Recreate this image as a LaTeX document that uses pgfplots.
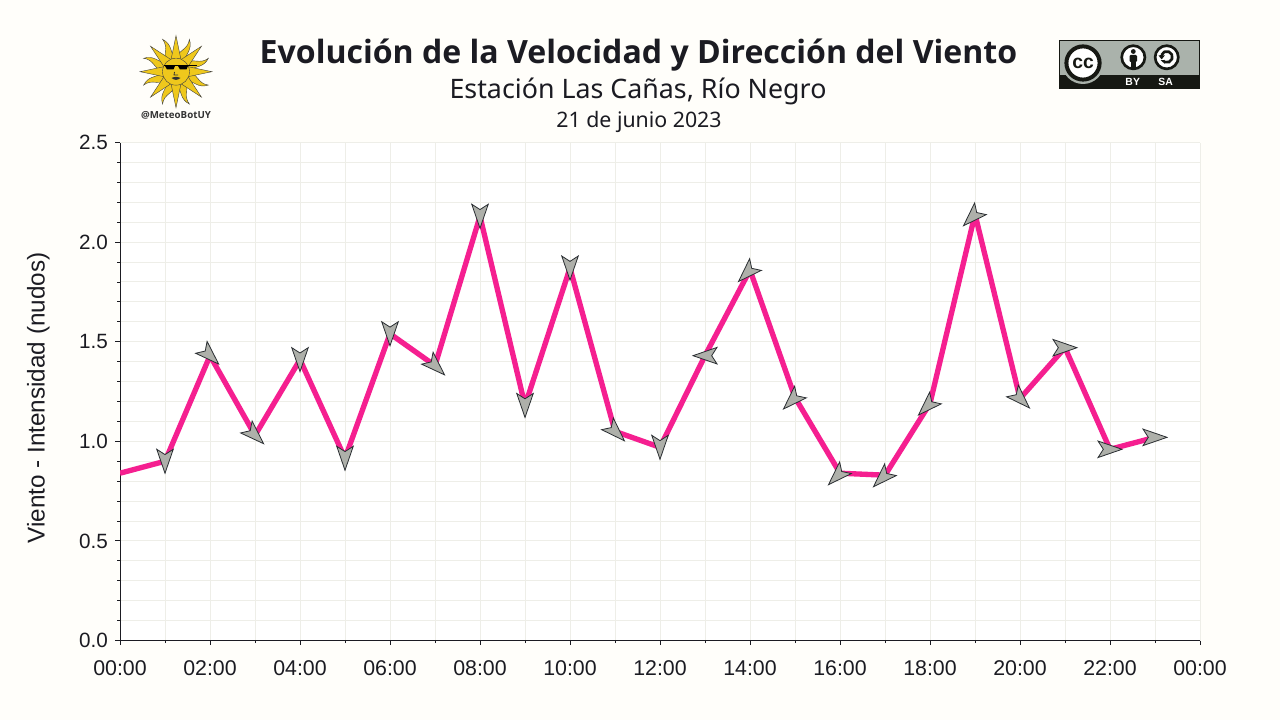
\documentclass[border=0pt]{standalone}
\usepackage{fontspec}
\usepackage{pgfplots}
\usepackage{pgfplotstable}
\pgfplotsset{compat=1.18}
\setmainfont{Liberation Sans}
\newfontfamily\notofont{Noto Sans}
\newfontfamily\openfont{Open Sans}

\definecolor{pagebg}{HTML}{FFFEFA}
\definecolor{gridc}{HTML}{EEEEE8}
\definecolor{windline}{HTML}{F51F90}
\definecolor{arrowfill}{HTML}{AEB0AA}
\definecolor{arrowedge}{HTML}{2A2E32}
\definecolor{inkc}{HTML}{1B1B22}
\definecolor{sunc}{HTML}{EFC81C}
\definecolor{ccgray}{HTML}{AAB2AB}
\definecolor{ccblack}{HTML}{161813}

% kite shaped wind arrow, tip along +x
\pgfdeclareplotmark{windarrow}{%
  \pgfpathmoveto{\pgfqpoint{9pt}{0pt}}%
  \pgfpathlineto{\pgfqpoint{-9pt}{6.2pt}}%
  \pgfpathlineto{\pgfqpoint{-5pt}{0pt}}%
  \pgfpathlineto{\pgfqpoint{-9pt}{-6.2pt}}%
  \pgfpathclose
  \pgfsetlinewidth{0.6pt}%
  \pgfsetmiterjoin
  \pgfsetfillcolor{arrowfill}%
  \pgfsetstrokecolor{arrowedge}%
  \pgfusepathqfillstroke
}

% off: how far the arrow sits from the point along its own direction (pt)
\pgfplotstableread{
h  v     dir  off
0  0.84  0    0
1  0.90  -90  0
2  1.43  -44  0
3  1.03  -44  0
4  1.41  -90  0
5  0.915 -90  0
6  1.54  -90  0
7  1.38  -44  1
8  2.13  -90  0
9  1.18  -90  0
10 1.87  -90  0
11 1.05  -45  1
12 0.97  -90  0
13 1.43  180  0
14 1.86  -135 3.2
15 1.22  -135 3.2
16 0.84  -135 3.2
17 0.83  -135 3.2
18 1.19  -135 3.2
19 2.14  -135 3.2
20 1.215 -45  1
21 1.47  0    0
22 0.96  0    0
23 1.02  0    0
}\windtable

\begin{document}
\begin{tikzpicture}
\path[use as bounding box,fill=pagebg] (0pt,0pt) rectangle (960pt,540pt);

% everything in this scope is in reference pixels
\begin{scope}[x=0.75pt,y=-0.75pt,shift={(0pt,540pt)}]
  % titles
  \node[text=inkc,font=\openfont\bfseries\fontsize{24.05pt}{26pt}\selectfont] at (638.5,55) {Evolución de la Velocidad y Dirección del Viento};
  \node[text=inkc,font=\notofont\fontsize{20.1pt}{24pt}\selectfont] at (638,91) {Estación Las Cañas, Río Negro};
  \node[text=inkc,font=\notofont\fontsize{16pt}{18pt}\selectfont] at (639,121.5) {21 de junio 2023};

  % sun logo
  \foreach \a in {22.5,67.5,...,337.5}{
    \begin{scope}[shift={(176,71.7)},rotate=\a]
      \draw[fill=sunc,draw=black!75,line width=0.3pt] (13,-4) .. controls (20,-7) and (25,3) .. (35,0)
        .. controls (27,7) and (20,2) .. (13,4) -- cycle;
    \end{scope}
  }
  \foreach \a in {0,45,...,315}{
    \begin{scope}[shift={(176,71.7)},rotate=\a]
      \draw[fill=sunc,draw=black!75,line width=0.3pt] (12,-5) -- (36,0) -- (12,5) -- cycle;
    \end{scope}
  }
  \draw[fill=sunc,draw=black!75,line width=0.3pt] (176,71.7) circle (13.5);
  \draw[black,line width=1pt] (164,65.6) -- (197,65.6);
  \fill[black] (165,66) -- (175,66) -- (173.5,69.5) -- (167,69.5) -- cycle;
  \fill[black] (178,66) -- (188,66) -- (186.5,69.5) -- (180,69.5) -- cycle;
  \draw[black!80,line width=0.6pt] (174.5,72) -- (174,75) -- (178,75);
  \fill[black!80] (171.5,78) .. controls (175,76.5) and (177,76.5) .. (180.5,78) .. controls (177,80.5) and (175,80.5) .. (171.5,78) -- cycle;
  \node[text=black!80,font=\openfont\bfseries\fontsize{7.3pt}{9pt}\selectfont] at (176,115) {@MeteoBotUY};

  % cc by-sa badge
  \begin{scope}
    \clip (1059,40) rectangle (1200,89);
    \fill[ccgray] (1059,40) rectangle (1200,75);
    \fill[ccblack] (1059,75) rectangle (1200,89);
    \fill[ccgray] (1083,63) circle (21);
  \end{scope}
  \draw[ccblack,line width=0.6pt] (1059.4,40.4) rectangle (1199.6,88.6);
  \draw[ccblack,fill=white,line width=3pt] (1083,63) circle (16.6);
  \node[text=ccblack,font=\bfseries\fontsize{14.5pt}{16pt}\selectfont] at (1083,63) {cc};
  \draw[ccblack,fill=white,line width=2pt] (1133.3,57.3) circle (11.6);
  \fill[ccblack] (1133.3,51.5) circle (2.4);
  \fill[ccblack,rounded corners=0.8pt] (1129.6,55) rectangle (1137,62);
  \fill[ccblack] (1131,61) rectangle (1135.6,68);
  \draw[ccblack,fill=white,line width=2pt] (1166.7,57.3) circle (11.6);
  \draw[ccblack,line width=2pt] (1161.5,55) arc[start angle=200,end angle=-160,radius=5.6];
  \fill[white] (1159,57) rectangle (1163.5,60);
  \fill[ccblack] (1158.5,55.5) -- (1164.8,55.5) -- (1161.6,59.4) -- cycle;
  \node[text=white,font=\bfseries\fontsize{7.8pt}{9pt}\selectfont] at (1132.7,82.3) {BY};
  \node[text=white,font=\bfseries\fontsize{7.8pt}{9pt}\selectfont] at (1165.7,82.3) {SA};
\end{scope}

\begin{axis}[
  at={(90pt,59.6pt)}, anchor=south west,
  scale only axis,
  width=810pt, height=373.5pt,
  xmin=0, xmax=24, ymin=0, ymax=2.5,
  axis background/.style={fill=white},
  axis lines=left,
  axis line style={-,line width=0.75pt,color=inkc},
  xtick={0,2,...,24},
  xticklabels={00:00,02:00,04:00,06:00,08:00,10:00,12:00,14:00,16:00,18:00,20:00,22:00,00:00},
  minor xtick={1,3,...,23},
  ytick={0,0.5,1,1.5,2,2.5},
  minor ytick={0.1,0.2,0.3,0.4,0.6,0.7,0.8,0.9,1.1,1.2,1.3,1.4,1.6,1.7,1.8,1.9,2.1,2.2,2.3,2.4},
  grid=both,
  grid style={gridc,line width=0.75pt},
  minor grid style={gridc,line width=0.75pt},
  tick align=outside,
  tick style={inkc,line width=0.7pt},
  major tick length=3.5pt,
  minor tick length=2pt,
  x tick label style={text=inkc,font=\fontsize{16pt}{18pt}\selectfont,yshift=-8pt},
  y tick label style={text=inkc,font=\fontsize{15.5pt}{18pt}\selectfont,xshift=-2pt,/pgf/number format/fixed,/pgf/number format/fixed zerofill,/pgf/number format/precision=1,/pgf/number format/assume math mode=true},
  ylabel={Viento - Intensidad (nudos)},
  every axis y label/.style={at={(axis description cs:-0.0755,0.487)},rotate=90,anchor=center,text=inkc,font=\fontsize{18.2pt}{20pt}\selectfont},
]
\addplot[color=windline,line width=4pt,line join=round,no marks] table[x=h,y=v] {\windtable};
\addplot[
  scatter, only marks, mark=windarrow,
  skip coords between index={0}{1},
  visualization depends on={\thisrow{dir}\as\dirangle},
  visualization depends on={\thisrow{off}\as\diroff},
  scatter/@pre marker code/.code={\scope[rotate=\dirangle,xshift=\diroff pt]},
  scatter/@post marker code/.code={\endscope},
] table[x=h,y=v] {\windtable};
\end{axis}
\end{tikzpicture}
\end{document}
